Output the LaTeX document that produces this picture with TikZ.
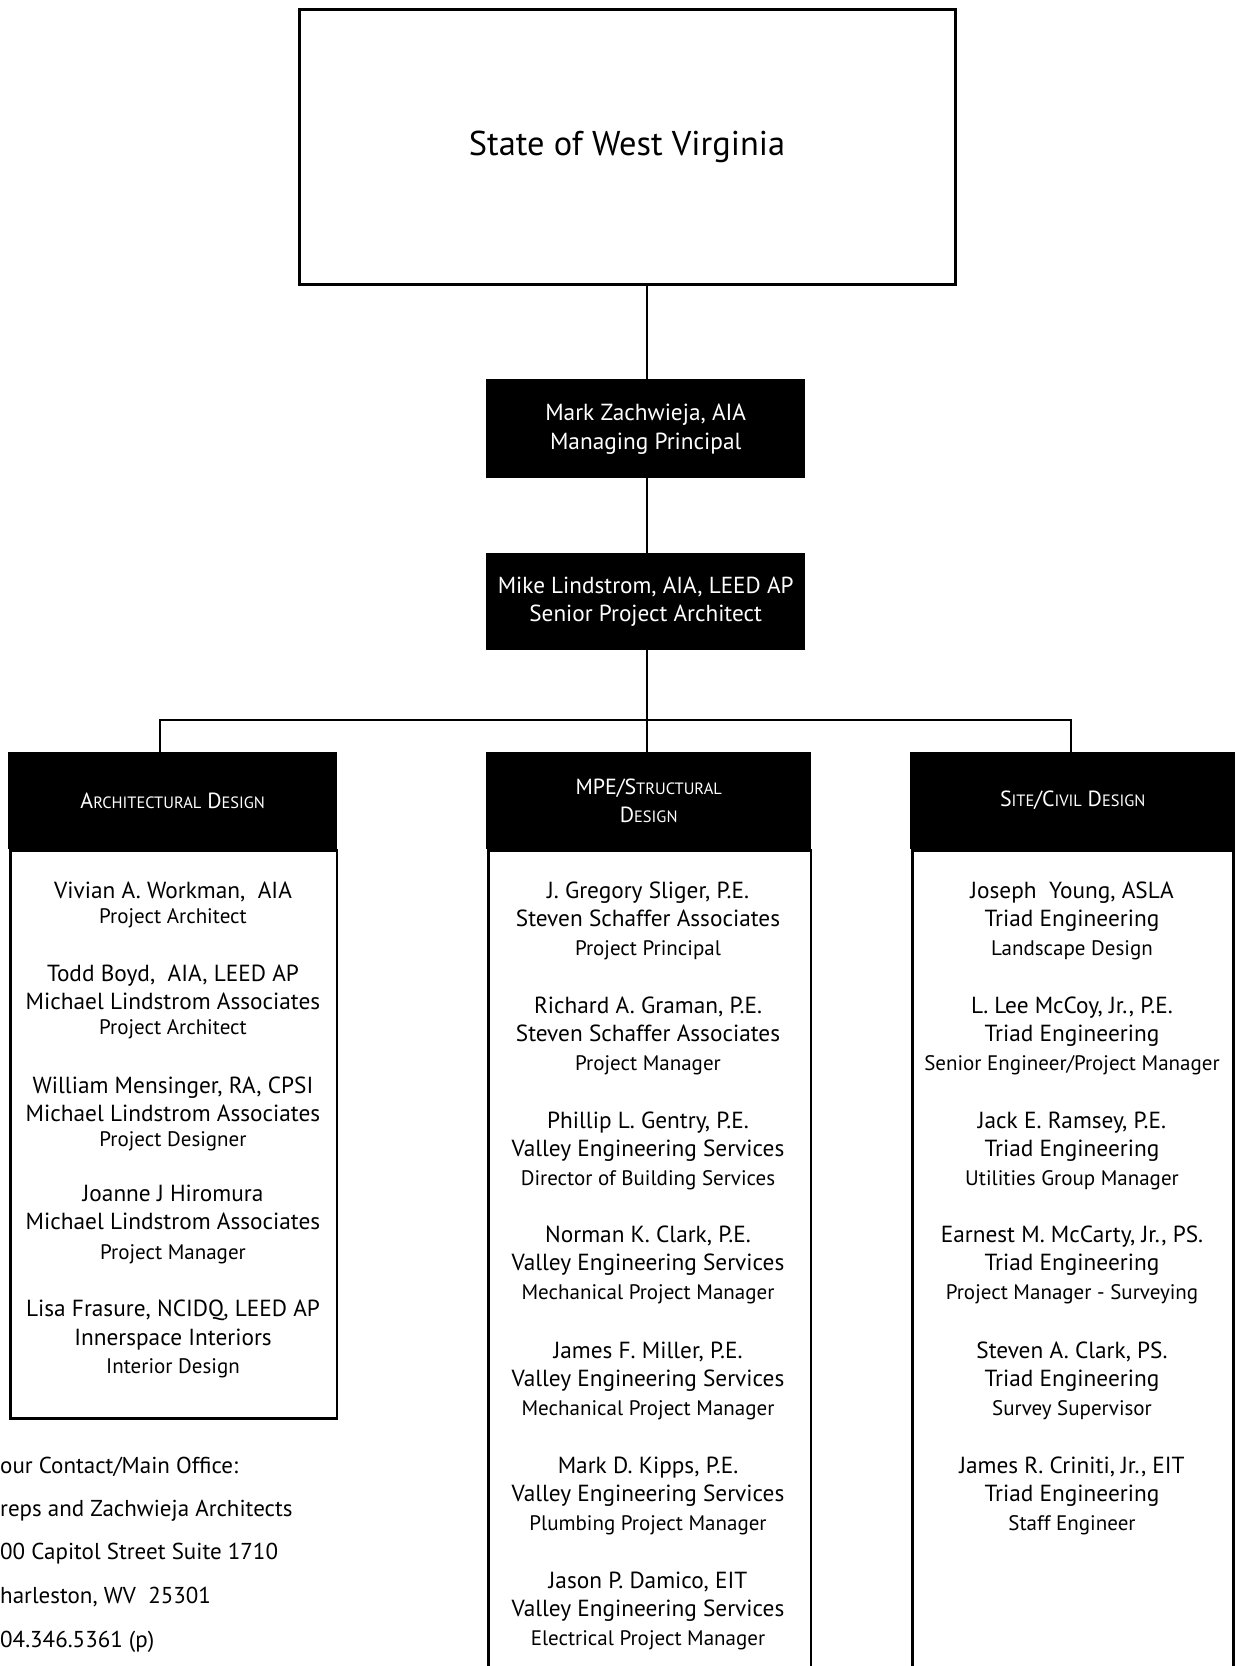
\documentclass[tikz,border=0pt]{standalone}
\usepackage{fontspec}
\setmainfont{PT Sans}
\newcommand\fsc[1]{{\fontsize{16.4}{18}\selectfont #1}}
\newcommand\pthree[6]{%
  \node[nm] (#1a) at (#2,#3) {#4};
  \node[nm] (#1b) at (#2,#3+28.5) {#5};
  \node[tl] (#1c) at (#2,#3+57.5) {#6};}
\begin{document}
\begin{tikzpicture}[x=1pt,y=-1pt,
  conn/.style={line width=2.5pt},
  blk/.style={fill=black, text=white, inner sep=0pt, anchor=north west, align=center},
  body/.style={draw, line width=2.5pt, inner sep=0pt, anchor=north west},
  hdr/.style={blk, font=\fontsize{21.9}{28}\selectfont},
  nm/.style={font=\fontsize{23.3}{26}\selectfont, anchor=base},
  tl/.style={font=\fontsize{21}{22}\selectfont, anchor=base},
  ct/.style={font=\fontsize{23}{24}\selectfont, anchor=base west, inner sep=0pt}]
\useasboundingbox (0,0) rectangle (1235,1666);
% top
\node[draw, line width=3pt, minimum width=656pt, minimum height=275pt, anchor=north west,
      font=\fontsize{34.4}{40}\selectfont] (state) at (297.5,7.5) {State of West Virginia};
\node[blk, minimum width=319pt, minimum height=99pt, font=\fontsize{23.3}{29}\selectfont]
      (mark) at (486,379) {Mark Zachwieja, AIA\\Managing Principal};
\node[blk, minimum width=319pt, minimum height=97pt, font=\fontsize{23.2}{28}\selectfont]
      (mike) at (486,553) {Mike Lindstrom, AIA, LEED AP\\Senior Project Architect};
% column bodies
\node[body, minimum width=326.5pt, minimum height=568pt] (archbody) at (9.25,849) {};
\node[body, minimum width=322.5pt, minimum height=840pt] (mpebody) at (487.25,849) {};
\node[body, minimum width=321pt, minimum height=840pt] (sitebody) at (911.25,849) {};
% headers
\node[hdr, minimum width=329pt, minimum height=97pt] (archhead) at (8,752)
      {A\fsc{RCHITECTURAL} D\fsc{ESIGN}};
\node[hdr, minimum width=325pt, minimum height=97pt] (mpehead) at (486,752)
      {MPE/S\fsc{TRUCTURAL}\\D\fsc{ESIGN}};
\node[hdr, minimum width=325pt, minimum height=97pt] (sitehead) at (910,752)
      {S\fsc{ITE}/C\fsc{IVIL} D\fsc{ESIGN}};
% connectors
\coordinate (bar) at (647,720);
\draw[conn] (state.south -| bar) -- (mark.north -| bar);
\draw[conn] (mark.south -| bar) -- (mike.north -| bar);
\draw[conn] (mike.south -| bar) -- (mpehead.north -| bar);
\draw[conn] ([xshift=-12.5pt]archhead.north) -- ([xshift=-12.5pt]archhead.north |- bar)
  -- ([xshift=-1.5pt]sitehead.north |- bar) -- ([xshift=-1.5pt]sitehead.north);
% architectural column
\node[nm] (a1a) at (173,898) {Vivian A. Workman,\ \ AIA};
\node[tl] (a1c) at (173,923) {Project Architect};
\node[nm] (a2a) at (173,981) {Todd Boyd,\ \ AIA, LEED AP};
\node[nm] (a2b) at (173,1009) {Michael Lindstrom Associates};
\node[tl] (a2c) at (173,1034) {Project Architect};
\node[nm] (a3a) at (173,1093) {William Mensinger, RA, CPSI};
\node[nm] (a3b) at (173,1121) {Michael Lindstrom Associates};
\node[tl] (a3c) at (173,1146) {Project Designer};
\node[nm] (a4a) at (173,1201) {Joanne J Hiromura};
\node[nm] (a4b) at (173,1229) {Michael Lindstrom Associates};
\node[tl] (a4c) at (173,1259) {Project Manager};
\node[nm] (a5a) at (173,1316) {Lisa Frasure, NCIDQ, LEED AP};
\node[nm] (a5b) at (173,1345) {Innerspace Interiors};
\node[tl] (a5c) at (173,1373) {Interior Design};
% MPE column
\pthree{m1}{648}{898}{J. Gregory Sliger, P.E.}{Steven Schaffer Associates}{Project Principal}
\pthree{m2}{648}{1013}{Richard A. Graman, P.E.}{Steven Schaffer Associates}{Project Manager}
\pthree{m3}{648}{1128}{Phillip L. Gentry, P.E.}{Valley Engineering Services}{Director of Building Services}
\pthree{m4}{648}{1242}{Norman K. Clark, P.E.}{Valley Engineering Services}{Mechanical Project Manager}
\pthree{m5}{648}{1358}{James F. Miller, P.E.}{Valley Engineering Services}{Mechanical Project Manager}
\pthree{m6}{648}{1473}{Mark D. Kipps, P.E.}{Valley Engineering Services}{Plumbing Project Manager}
\pthree{m7}{648}{1588}{Jason P. Damico, EIT}{Valley Engineering Services}{Electrical Project Manager}
% site column
\pthree{s1}{1072}{898}{Joseph\ \ Young, ASLA}{Triad Engineering}{Landscape Design}
\pthree{s2}{1072}{1013}{L. Lee McCoy, Jr., P.E.}{Triad Engineering}{Senior Engineer/Project Manager}
\pthree{s3}{1072}{1128}{Jack E. Ramsey, P.E.}{Triad Engineering}{Utilities Group Manager}
\pthree{s4}{1072}{1242}{Earnest M. McCarty, Jr., PS.}{Triad Engineering}{Project Manager - Surveying}
\pthree{s5}{1072}{1358}{Steven A. Clark, PS.}{Triad Engineering}{Survey Supervisor}
\pthree{s6}{1072}{1473}{James R. Criniti, Jr., EIT}{Triad Engineering}{Staff Engineer}
% contact
\node[ct] (c1) at (0,1473) {our Contact/Main Office:};
\node[ct] (c2) at (0,1516) {reps and Zachwieja Architects};
\node[ct] (c3) at (0,1559) {00 Capitol Street Suite 1710};
\node[ct] (c4) at (0,1603) {harleston, WV\ \ 25301};
\node[ct] (c5) at (0,1647) {04.346.5361 (p)};
\end{tikzpicture}
\end{document}
